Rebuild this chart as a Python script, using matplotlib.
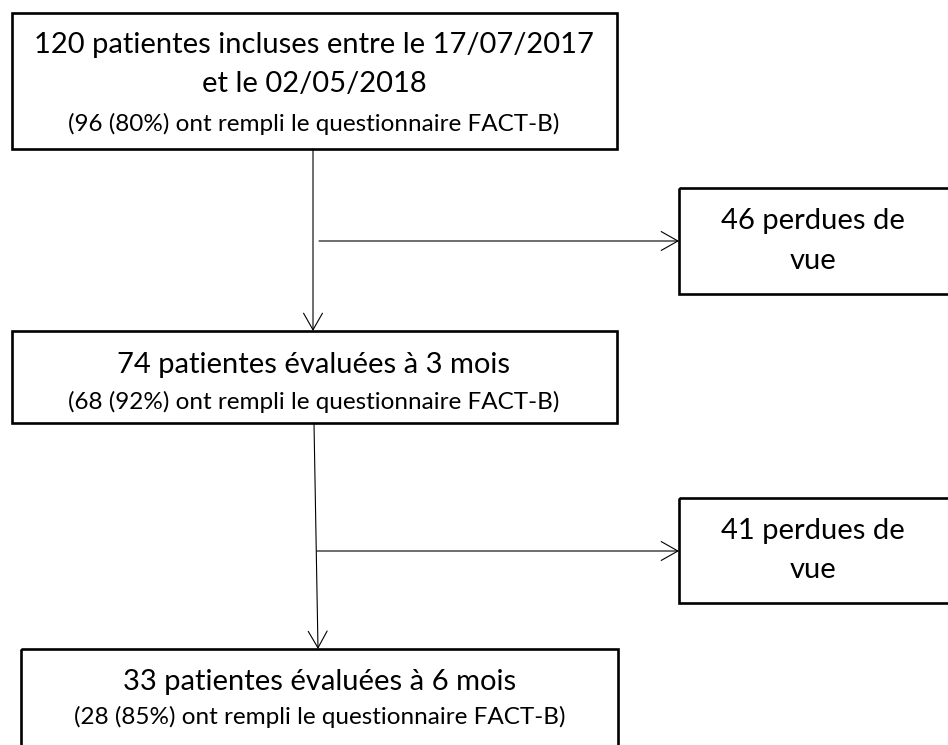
import matplotlib.pyplot as plt
from matplotlib.patches import Rectangle, FancyArrowPatch

# Flow data
included = 120
inclusion_period = ("17/07/2017", "02/05/2018")
evaluated = [74, 33]           # at 3 and 6 months
months = [3, 6]
lost = [46, 41]                # lost to follow-up
fact_done = [96, 68, 28]       # filled FACT-B questionnaire
fact_pct = [80, 92, 85]

plt.rcParams['font.family'] = ['Lato', 'DejaVu Sans']

fig = plt.figure(figsize=(9.48, 7.45), dpi=100)
ax = fig.add_axes([0, 0, 1, 1])
ax.set_xlim(0, 948)
ax.set_ylim(745, 0)
ax.axis('off')

big = 21
small = 17.5


def box(x0, y0, x1, y1):
    ax.add_patch(Rectangle((x0, y0), x1 - x0, y1 - y0, fill=False,
                           edgecolor='black', linewidth=1.9, clip_on=False))


def arrow(p0, p1):
    ax.add_patch(FancyArrowPatch(p0, p1, arrowstyle='->,head_length=0.6,head_width=0.34',
                                 mutation_scale=20, color='black', linewidth=0.8,
                                 shrinkA=0, shrinkB=0))


def quest(i):
    return f"({fact_done[i]} ({fact_pct[i]}%) ont rempli le questionnaire FACT-B)"


# main box 1
box(12, 13, 617, 149)
ax.text(314, 45, f"{included} patientes incluses entre le {inclusion_period[0]}",
        ha='center', va='center', fontsize=big)
ax.text(314, 84, f"et le {inclusion_period[1]}", ha='center', va='center', fontsize=big)
ax.text(314, 124, quest(0), ha='center', va='center', fontsize=small)

# main box 2
box(12, 331, 617, 423)
ax.text(314, 365, f"{evaluated[0]} patientes évaluées à {months[0]} mois",
        ha='center', va='center', fontsize=big)
ax.text(314, 402, quest(1), ha='center', va='center', fontsize=small)

# main box 3
box(21, 649, 618, 760)
ax.text(320, 682, f"{evaluated[1]} patientes évaluées à {months[1]} mois",
        ha='center', va='center', fontsize=big)
ax.text(320, 717, quest(2), ha='center', va='center', fontsize=small)

# side boxes
for (y0, y1), n in zip([(188, 294), (498, 603)], lost):
    box(679, y0, 960, y1)
    yc = (y0 + y1) / 2
    ax.text(813, yc - 20, f"{n} perdues de", ha='center', va='center', fontsize=big)
    ax.text(813, yc + 20, "vue", ha='center', va='center', fontsize=big)

# arrows
arrow((313, 149), (313, 331))
arrow((319, 241), (679, 241))
arrow((314, 423), (318, 649))
arrow((317, 551), (679, 551))

fig.savefig('out.png', dpi=100)
